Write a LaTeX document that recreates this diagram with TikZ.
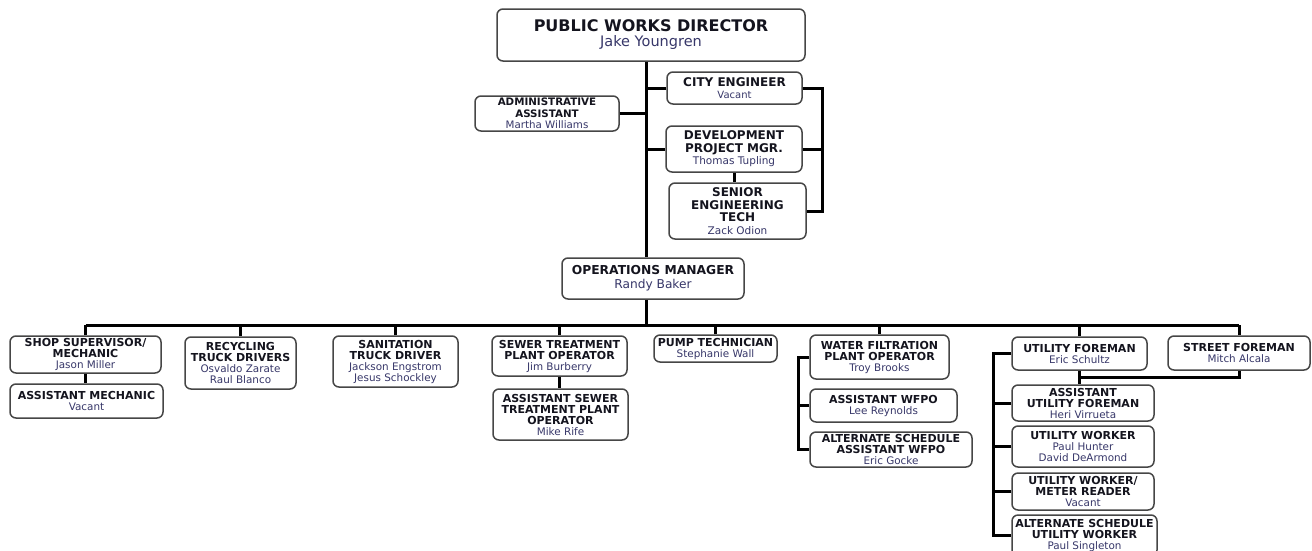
\documentclass[tikz,border=0pt]{standalone}
\usepackage{fontspec}
\setmainfont{DejaVu Sans}
\definecolor{boxc}{RGB}{70,70,70}
\definecolor{titlec}{RGB}{20,20,30}
\definecolor{namec}{RGB}{55,55,105}
% person's name under a role title
\newcommand\pn[2]{{\mdseries\fontsize{#1}{#1}\selectfont\color{namec}#2}}
\begin{document}
\begin{tikzpicture}[x=1pt,y=-1pt,
  box/.style={draw=boxc, line width=1.5pt, rounded corners=6pt, fill=white,
    align=center, inner sep=0pt, text=titlec},
  conn/.style={line width=3pt, draw=black},
  fbig/.style={font=\fontsize{16}{15}\bfseries\selectfont},
  fmid/.style={font=\fontsize{12.3}{14}\bfseries\selectfont},
  fup/.style={font=\fontsize{12}{12.5}\bfseries\selectfont},
  fadm/.style={font=\fontsize{10.3}{11.5}\bfseries\selectfont},
  fsm/.style={font=\fontsize{11}{11}\bfseries\selectfont}]
\useasboundingbox (0,0) rectangle (1312,550);
\clip (0,0) rectangle (1312,550);

% upper management
\node[box,fbig,minimum width=308pt,minimum height=52pt] (dir) at (651,35)
  {PUBLIC WORKS DIRECTOR\\\pn{14.5}{Jake Youngren}};
\node[box,fadm,minimum width=144pt,minimum height=35pt] (admin) at (547,113.5)
  {ADMINISTRATIVE\\ASSISTANT\\\pn{10.3}{Martha Williams}};
\node[box,fup,minimum width=135pt,minimum height=32pt] (ce) at (734.5,88)
  {CITY ENGINEER\\\pn{10}{Vacant}};
\node[box,fup,minimum width=136pt,minimum height=46pt] (dpm) at (734,149)
  {DEVELOPMENT\\PROJECT MGR.\\\pn{10.5}{Thomas Tupling}};
\node[box,fup,minimum width=137pt,minimum height=56pt] (set) at (737.5,211)
  {SENIOR\\ENGINEERING\\TECH\\\pn{10.5}{Zack Odion}};
\node[box,fmid,minimum width=182pt,minimum height=41pt] (ops) at (653,278.5)
  {OPERATIONS MANAGER\\\pn{12.2}{Randy Baker}};

% divisions under operations
\node[box,fsm,minimum width=151pt,minimum height=37pt] (shop) at (85.5,354.5)
  {SHOP SUPERVISOR/\\MECHANIC\\\pn{10.4}{Jason Miller}};
\node[box,fsm,minimum width=153pt,minimum height=34pt] (amech) at (86.5,401)
  {ASSISTANT MECHANIC\\\pn{10.4}{Vacant}};
\node[box,fsm,minimum width=111pt,minimum height=52pt] (recyc) at (240.5,363)
  {RECYCLING\\TRUCK DRIVERS\\\pn{10.4}{Osvaldo Zarate}\\\pn{10.4}{Raul Blanco}};
\node[box,fsm,minimum width=125pt,minimum height=51pt] (sanit) at (395.5,361.5)
  {SANITATION\\TRUCK DRIVER\\\pn{10.4}{Jackson Engstrom}\\\pn{10.4}{Jesus Schockley}};
\node[box,fsm,minimum width=135pt,minimum height=40pt] (sewer) at (559.5,356)
  {SEWER TREATMENT\\PLANT OPERATOR\\\pn{10.4}{Jim Burberry}};
\node[box,fsm,minimum width=135pt,minimum height=51pt] (asewer) at (560.5,414.5)
  {ASSISTANT SEWER\\TREATMENT PLANT\\OPERATOR\\\pn{10.4}{Mike Rife}};
\node[box,fsm,minimum width=123pt,minimum height=27pt] (pump) at (715.5,348.5)
  {PUMP TECHNICIAN\\\pn{10.4}{Stephanie Wall}};
\node[box,fsm,minimum width=139pt,minimum height=44pt] (wfp) at (879.5,357)
  {WATER FILTRATION\\PLANT OPERATOR\\\pn{10.4}{Troy Brooks}};
\node[box,fsm,minimum width=147pt,minimum height=33pt] (awfpo) at (883.5,405.5)
  {ASSISTANT WFPO\\\pn{10.4}{Lee Reynolds}};
\node[box,fsm,minimum width=162pt,minimum height=35pt] (altw) at (891,449.5)
  {ALTERNATE SCHEDULE\\ASSISTANT WFPO\\\pn{10.4}{Eric Gocke}};
\node[box,fsm,minimum width=135pt,minimum height=33pt] (uf) at (1079.5,353.5)
  {UTILITY FOREMAN\\\pn{10.4}{Eric Schultz}};
\node[box,fsm,minimum width=142pt,minimum height=34pt] (sf) at (1239,353)
  {STREET FOREMAN\\\pn{10.4}{Mitch Alcala}};
\node[box,fsm,minimum width=142pt,minimum height=36pt] (auf) at (1083,403)
  {ASSISTANT\\UTILITY FOREMAN\\\pn{10.4}{Heri Virrueta}};
\node[box,fsm,minimum width=142pt,minimum height=41pt] (uw) at (1083,446.5)
  {UTILITY WORKER\\\pn{10.4}{Paul Hunter}\\\pn{10.4}{David DeArmond}};
\node[box,fsm,minimum width=142pt,minimum height=37pt] (umr) at (1083,491.5)
  {UTILITY WORKER/\\METER READER\\\pn{10.4}{Vacant}};
\node[box,fsm,minimum width=145pt,minimum height=41pt] (altu) at (1084.5,535.5)
  {ALTERNATE SCHEDULE\\UTILITY WORKER\\\pn{10.4}{Paul Singleton}};

% guide coordinates for the connector runs
\coordinate (trunk) at (646,0);
\coordinate (rb) at (822,0);
\coordinate (bus) at (0,325);
\coordinate (wb) at (798,0);
\coordinate (ub) at (993,0);
\coordinate (low) at (0,377);

% main trunk and staff lines
\draw[conn] (trunk |- dir.south) -- (trunk |- ops.north);
\draw[conn] (trunk |- ops.south) -- (trunk |- bus);
\draw[conn] (admin.east) -- (admin.east -| trunk);
\draw[conn] (ce.west) -- (ce.west -| trunk);
\draw[conn] (dpm.west) -- (dpm.west -| trunk);
\draw[conn] (dpm.south) -- (dpm.south |- set.north);
\draw[conn] (ce.east) -| (rb |- set.east) -- (set.east);
\draw[conn] (dpm.east) -- (dpm.east -| rb);

% horizontal bus and drops
\draw[conn] (shop.north |- bus) -- (sf.north |- bus);
\foreach \n in {shop,recyc,sanit,sewer,pump,wfp,uf,sf}
  \draw[conn] (\n.north) -- (\n.north |- bus);
\draw[conn] (shop.south) -- (shop.south |- amech.north);
\draw[conn] (sewer.south) -- (sewer.south |- asewer.north);

% water filtration group
\draw[conn] (wfp.west) -| (wb |- altw.west) -- (altw.west);
\draw[conn] (awfpo.west) -- (awfpo.west -| wb);

% utility and street group
\draw[conn] (uf.south) -- (uf.south |- auf.north);
\draw[conn] (uf.south |- low) -| (sf.south);
\draw[conn] (uf.west) -| (ub |- altu.west) -- (altu.west);
\foreach \n in {auf,uw,umr}
  \draw[conn] (\n.west) -- (\n.west -| ub);
\end{tikzpicture}
\end{document}
